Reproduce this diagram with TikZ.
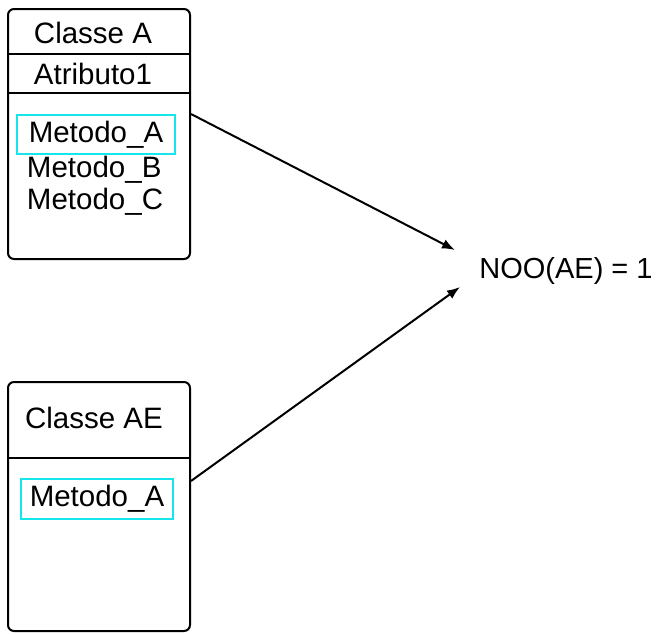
\documentclass[tikz,border=0pt]{standalone}
\usepackage{fontspec}
\setmainfont{Liberation Sans}
\usetikzlibrary{positioning,arrows.meta}
\definecolor{ciano}{RGB}{20,230,235}
\begin{document}
\begin{tikzpicture}[x=1pt, y=-1pt, line width=2pt,
  txt/.style={font=\fontsize{29.5}{34}\selectfont, inner sep=0pt},
  classe/.style={draw, rounded corners=6pt, minimum width=182pt, anchor=north west},
  metodo/.style={txt, draw=ciano, line width=2pt},
  seta/.style={-{Latex[length=13pt,width=10pt]}}]
\useasboundingbox (0,0) rectangle (656,633);
% classe A
\node[classe, minimum height=250pt] (A) at (7,8) {};
\draw (A.west |- 0,54) -- (A.east |- 0,54);
\draw (A.west |- 0,93) -- (A.east |- 0,93);
\node[txt] (tA) at (93,33) {Classe A};
\node[txt] (atA) at (93,74) {Atributo1};
\node[metodo, minimum width=158pt, minimum height=39pt] (mA) at (96,134.5) {Metodo\_A};
\node[txt, anchor=west] (mB) at (26,170) {Metodo\_B};
\node[txt, anchor=west] (mC) at (26,202) {Metodo\_C};
% classe AE
\node[classe, minimum height=249pt] (AE) at (7,381) {};
\draw (AE.west |- 0,458) -- (AE.east |- 0,458);
\node[txt] (tAE) at (94,418) {Classe AE};
\node[metodo, minimum width=152pt, minimum height=40pt] (mAE) at (97,499) {Metodo\_A};
% resultado
\node[txt, font=\fontsize{29}{34}\selectfont] (noo) at (566,271) {NOO(AE) = 1};
\coordinate (e1) at (455,250);
\coordinate (e2) at (460,287);
\draw[seta] (A.east |- 0,114) -- (e1);
\draw[seta] (AE.east |- 0,481) -- (e2);
\end{tikzpicture}
\end{document}
